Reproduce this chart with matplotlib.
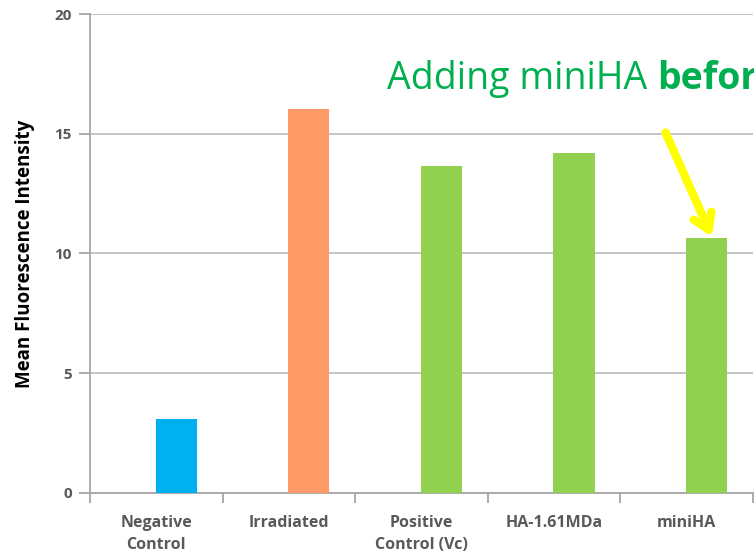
import matplotlib
matplotlib.use("Agg")
import matplotlib.pyplot as plt

categories = ["Negative\nControl", "Irradiated", "Positive\nControl (Vc)", "HA-1.61MDa", "miniHA"]
values = [3.1, 16.05, 13.65, 14.2, 10.65]
colors = ["#00B0F0", "#FF9966", "#92D050", "#92D050", "#92D050"]
yticks = [0, 5, 10, 15, 20]
ylabel = "Mean Fluorescence Intensity"
note_plain = "Adding miniHA "
note_bold = "before"

fig = plt.figure(figsize=(7.54, 5.6), dpi=100)
ax = fig.add_axes([90/754, 67/560, 663/754, 479/560])
x = list(range(len(categories)))
offset = 0.15  # bars sit right of category centre (empty second series slot)
ax.bar([i + offset for i in x], values, width=0.31, color=colors, zorder=3)
ax.set_xlim(-0.5, len(categories) - 0.5)
ax.set_ylim(0, 20)
ax.set_yticks(yticks)
ax.set_yticklabels([str(t) for t in yticks], family="Open Sans", fontweight="bold", color="#595959", fontsize=11)
ax.yaxis.grid(True, color="#BFBFBF", linewidth=1.3, zorder=0)
ax.set_axisbelow(True)
for s in ["top", "right"]:
    ax.spines[s].set_visible(False)
ax.spines["left"].set_color("#A6A6A6")
ax.spines["left"].set_linewidth(1.3)
ax.spines["bottom"].set_color("#A6A6A6")
ax.spines["bottom"].set_linewidth(1.3)
ax.tick_params(axis="y", length=8, width=1.3, color="#A6A6A6", pad=5)
ax.set_xticks([i - 0.5 for i in range(len(categories) + 1)], minor=False)
ax.set_xticklabels([""] * (len(categories) + 1))
ax.set_xticks(x, minor=True)
ax.set_xticklabels(categories, minor=True, family="Open Sans", fontweight="bold", color="#595959", fontsize=11.5, linespacing=1.5)
ax.tick_params(axis="x", which="major", length=7, width=1.3, color="#A6A6A6", direction="out")
ax.tick_params(axis="x", which="minor", length=0, pad=16)
ax.set_ylabel(ylabel, family="Open Sans", fontweight="bold", fontsize=13.5, color="black", labelpad=14)

t1 = fig.text(387/754, 1 - 79/560, note_plain, color="#00B050", fontsize=27, family="Open Sans", va="center", ha="left")
fig.canvas.draw()
bb = t1.get_window_extent()
fig.text(bb.x1 / 754, 1 - 79/560, note_bold, color="#00B050", fontsize=27, family="Open Sans", fontweight="bold", va="center", ha="left")

ax.annotate("", xy=(4 + offset + 0.04, values[4] + 0.05), xytext=(3.84, 15.05),
            arrowprops=dict(arrowstyle="->,head_length=1.1,head_width=0.7", color="#FFFF00", lw=6, shrinkA=0, shrinkB=0),
            annotation_clip=False)

fig.savefig("out.png", dpi=100)
